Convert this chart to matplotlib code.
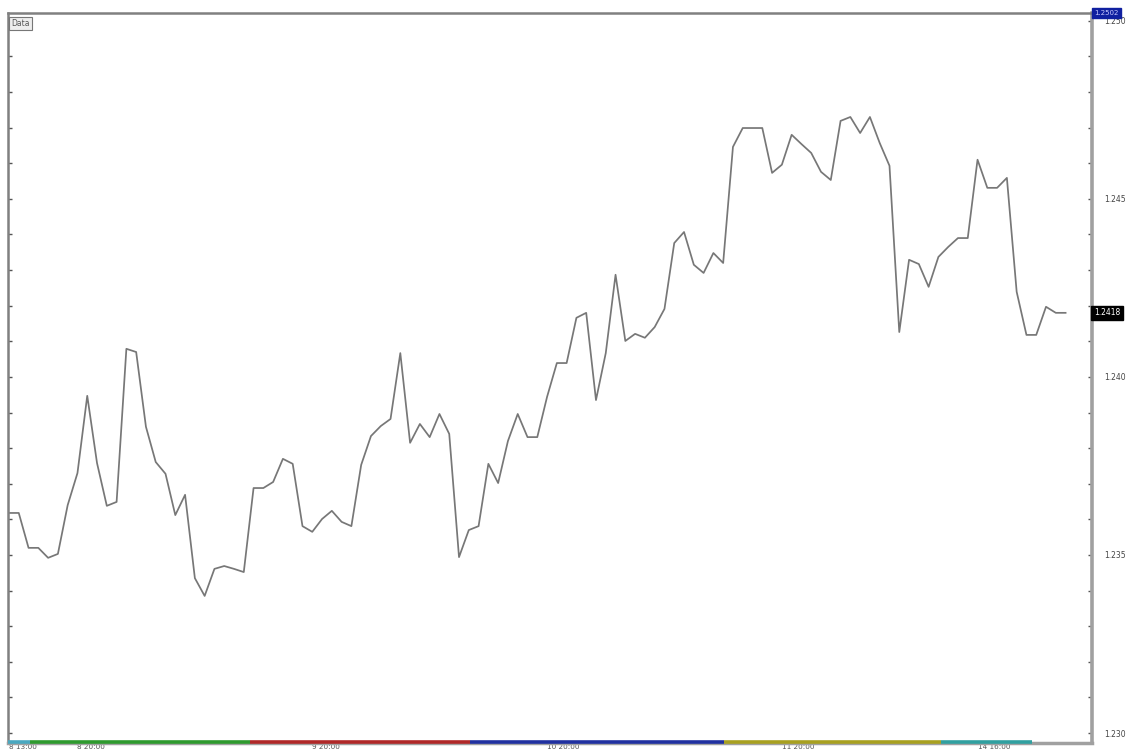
import matplotlib
matplotlib.use("Agg")
import matplotlib.pyplot as plt
from matplotlib.ticker import MultipleLocator, FormatStrFormatter

# hourly closes
close = [1.23618, 1.23618, 1.23520, 1.23520, 1.23492, 1.23503, 1.23640, 1.23730, 1.23947, 1.23758,
         1.23638, 1.23649, 1.24079, 1.24070, 1.23860, 1.23761, 1.23728, 1.23612, 1.23669, 1.23435,
         1.23385, 1.23461, 1.23469, 1.23461, 1.23452, 1.23688, 1.23688, 1.23705, 1.23770, 1.23756,
         1.23581, 1.23565, 1.23601, 1.23624, 1.23593, 1.23581, 1.23753, 1.23834, 1.23862, 1.23882,
         1.24067, 1.23815, 1.23868, 1.23831, 1.23896, 1.23840, 1.23494, 1.23570, 1.23581, 1.23756,
         1.23702, 1.23820, 1.23896, 1.23831, 1.23831, 1.23944, 1.24039, 1.24039, 1.24166, 1.24180,
         1.23935, 1.24067, 1.24287, 1.24101, 1.24121, 1.24110, 1.24140, 1.24191, 1.24376, 1.24407,
         1.24315, 1.24292, 1.24348, 1.24320, 1.24646, 1.24699, 1.24699, 1.24699, 1.24573, 1.24596,
         1.24680, 1.24654, 1.24629, 1.24576, 1.24553, 1.24719, 1.24730, 1.24685, 1.24730, 1.24657,
         1.24593, 1.24126, 1.24329, 1.24317, 1.24253, 1.24337, 1.24365, 1.24390, 1.24390, 1.24610,
         1.24531, 1.24531, 1.24559, 1.24239, 1.24118, 1.24118, 1.24197, 1.24180, 1.24180]

time_ticks = [0, 7, 31, 55, 79, 99]
time_labels = ["8 13:00", "8 20:00", "9 20:00", "10 20:00", "11 20:00", "14 16:00"]

# session bands along the time axis (bar index)
session_breaks = [-0.1, 2.15, 24.6, 47.1, 73.1, 95.3, 104.6]
session_colors = ["#4aa8c0", "#2e9a2e", "#b02828", "#2030a0", "#a8a020", "#30a0a0"]

last_price = close[-1]

fig = plt.figure(figsize=(11.27, 7.54), dpi=100)
ax = fig.add_axes([8 / 1127, 11 / 754, 1084 / 1127, 730 / 754])

x = range(len(close))
ax.plot(x, close, color="#777777", lw=1.25)

ax.set_xlim(-0.1, 110.7)
ax.set_ylim(1.22972, 1.25022)

ax.yaxis.tick_right()
ax.yaxis.set_major_locator(MultipleLocator(0.005))
ax.yaxis.set_minor_locator(MultipleLocator(0.001))
ax.yaxis.set_major_formatter(FormatStrFormatter("%.3f"))
ax.tick_params(axis="y", which="both", direction="in", length=3, width=1,
               color="#555555", left=True, right=True, labelsize=5.5,
               labelcolor="#444444", pad=9)

ax.set_xticks(time_ticks)
ax.set_xticklabels(time_labels, ha="left", fontsize=5.2, color="#555555")
ax.tick_params(axis="x", length=0, pad=1)

for side in ["left", "top"]:
    ax.spines[side].set_color("#808080")
    ax.spines[side].set_linewidth(1.8)
ax.spines["right"].set_color("#a0a0a0")
ax.spines["right"].set_linewidth(2.6)
ax.spines["bottom"].set_color("#a0a0a0")
ax.spines["bottom"].set_linewidth(2.5)

# coloured session strip on the time axis
xt = ax.get_xaxis_transform()
for i in range(len(session_colors)):
    ax.plot([session_breaks[i], session_breaks[i + 1]], [0.002, 0.002], color=session_colors[i],
            lw=2.6, solid_capstyle="butt", transform=xt, clip_on=False, zorder=5)

ax.text(0.003, 0.992, "Data", transform=ax.transAxes, fontsize=5.5, color="#555555",
        ha="left", va="top",
        bbox=dict(boxstyle="square,pad=0.3", fc="#eeeeee", ec="#777777", lw=0.8))

yt = ax.get_yaxis_transform()
ax.text(1.002, 1.25022, "1.2502", transform=yt, fontsize=5, color="#c8c8ff",
        ha="left", va="center",
        bbox=dict(boxstyle="square,pad=0.35", fc="#1020a0", ec="#1020a0"))
ax.text(1.002, last_price, f"{last_price:.4f}", transform=yt, fontsize=5.5, color="white",
        ha="left", va="center",
        bbox=dict(boxstyle="square,pad=0.35", fc="black", ec="black"))

fig.savefig("out.png", dpi=100)
